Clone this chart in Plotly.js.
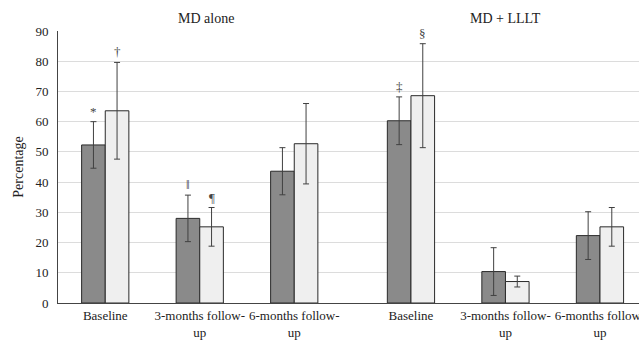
<!DOCTYPE html>
<html>
<head>
<meta charset="utf-8">
<script src="https://cdn.plot.ly/plotly-3.0.1.min.js"></script>
<style>html,body{margin:0;padding:0;background:#fff;}#chart{width:639px;height:340px;}</style>
</head>
<body>
<div id="chart"></div>
<script>
const categories = ['Baseline', '3-months follow-<br>up', '6-months follow-<br>up'];
const panelTitles = ['MD alone', 'MD + LLLT'];

const mdAloneDark = [52.3, 28.0, 43.6];
const mdAloneDarkErr = [7.7, 7.7, 7.8];
const mdAloneLight = [63.6, 25.2, 52.7];
const mdAloneLightErr = [16.0, 6.4, 13.3];

const llltDark = [60.3, 10.4, 22.3];
const llltDarkErr = [7.9, 7.9, 7.9];
const llltLight = [68.6, 7.1, 25.2];
const llltLightErr = [17.2, 1.8, 6.4];

const mdAloneDarkMarks = ['*', '\u2016', ''];
const mdAloneLightMarks = ['\u2020', '\u00b6', ''];
const llltDarkMarks = ['\u2021', '', ''];
const llltLightMarks = ['\u00a7', '', ''];

const yTicks = [0, 10, 20, 30, 40, 50, 60, 70, 80, 90];

const darkColor = '#8a8a8a';
const lightColor = '#efefef';
const edge = '#2a2a2a';
const font = 'Liberation Serif';
const markFont = 'Liberation Serif';

function barTrace(vals, errs, color, xa, name) {
  return {
    type: 'bar', x: categories, y: vals, xaxis: xa, yaxis: 'y', name: name,
    marker: {color: color, line: {color: edge, width: 1}},
    error_y: {type: 'data', array: errs, visible: true, color: '#404040', thickness: 1, width: 3},
    showlegend: false, hoverinfo: 'y'
  };
}

const data = [
  barTrace(mdAloneDark, mdAloneDarkErr, darkColor, 'x', 'Series 1'),
  barTrace(mdAloneLight, mdAloneLightErr, lightColor, 'x', 'Series 2'),
  barTrace(llltDark, llltDarkErr, darkColor, 'x2', 'Series 1'),
  barTrace(llltLight, llltLightErr, lightColor, 'x2', 'Series 2')
];

const annotations = [];
function addMarks(marks, vals, errs, xref, off) {
  marks.forEach((m, i) => {
    if (!m) return;
    annotations.push({
      xref: xref, yref: 'y', x: i + off, y: vals[i] + errs[i],
      text: m, showarrow: false, yanchor: 'bottom', yshift: 1,
      font: {family: markFont, size: 13, color: '#444'}
    });
  });
}
addMarks(mdAloneDarkMarks, mdAloneDark, mdAloneDarkErr, 'x', -0.125);
addMarks(mdAloneLightMarks, mdAloneLight, mdAloneLightErr, 'x', 0.125);
addMarks(llltDarkMarks, llltDark, llltDarkErr, 'x2', -0.125);
addMarks(llltLightMarks, llltLight, llltLightErr, 'x2', 0.125);

annotations.push({xref: 'x', yref: 'paper', x: 1.07, y: 1, yshift: 22, text: panelTitles[0], showarrow: false,
  font: {family: font, size: 14, color: '#222'}});
annotations.push({xref: 'x2', yref: 'paper', x: 1.0, y: 1, yshift: 22, text: panelTitles[1], showarrow: false,
  font: {family: font, size: 14, color: '#222'}});

const xCommon = {
  type: 'category', showgrid: false, zeroline: false,
  showline: true, linecolor: '#444', linewidth: 1, ticks: '',
  tickfont: {family: font, size: 13, color: '#222'}, anchor: 'y', fixedrange: true
};

const layout = {
  width: 639, height: 340,
  margin: {l: 58, r: 0, t: 31, b: 37},
  paper_bgcolor: '#fff', plot_bgcolor: '#fff',
  barmode: 'group', bargap: 0.5, bargroupgap: 0,
  xaxis: Object.assign({}, xCommon, {domain: [0, 0.5073], range: [-0.5, 2.619]}),
  xaxis2: Object.assign({}, xCommon, {domain: [0.5073, 1], range: [-0.616, 2.413]}),
  yaxis: {
    range: [0, 90], tickvals: yTicks, ticktext: yTicks.map(String),
    showgrid: true, gridcolor: '#dcdcdc', gridwidth: 1, zeroline: false,
    showline: true, linecolor: '#444', linewidth: 1, ticks: '',
    ticklabelstandoff: 6,
    tickfont: {family: font, size: 13, color: '#222'},
    title: {text: 'Percentage', font: {family: font, size: 14, color: '#222'}, standoff: 8},
    fixedrange: true
  },
  annotations: annotations
};

Plotly.newPlot('chart', data, layout, {displayModeBar: false, staticPlot: true});
</script>
</body>
</html>
